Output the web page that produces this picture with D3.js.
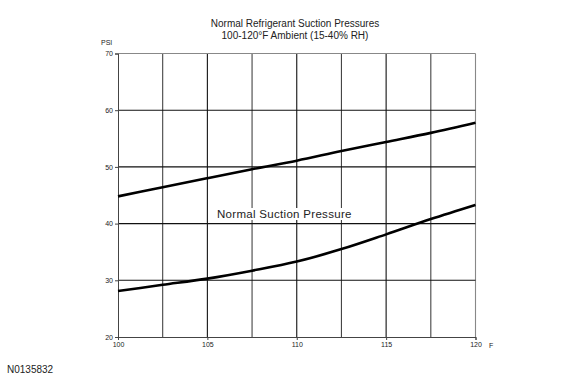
<!DOCTYPE html>
<html><head><meta charset="utf-8">
<script src="https://cdn.jsdelivr.net/npm/d3@7"></script>
<style>body{margin:0;background:#fff}svg{display:block}text{font-family:"Liberation Sans",Arial,sans-serif;fill:#222}</style>
</head><body>
<svg id="c" width="580" height="380"></svg>
<script>
const temps = [100, 102.5, 105, 107.5, 110, 112.5, 115, 117.5, 120];
const upperPsi = [44.8, 46.4, 48.0, 49.6, 51.1, 52.8, 54.4, 56.0, 57.8];
const lowerPsi = [28.1, 29.2, 30.3, 31.7, 33.3, 35.5, 38.1, 40.8, 43.3];
const xTicks = [100, 105, 110, 115, 120];
const yTicks = [20, 30, 40, 50, 60, 70];
const xGrid = [102.5, 105, 107.5, 110, 112.5, 115, 117.5, 120];
const yGrid = [30, 40, 50, 60, 70];
const titleLines = ["Normal Refrigerant Suction Pressures", "100-120°F Ambient (15-40% RH)"];

const svg = d3.select("#c");
const x = d3.scaleLinear().domain([100, 120]).range([118, 475.5]);
const y = d3.scaleLinear().domain([20, 70]).range([337, 53.5]);

// grid
svg.append("g").selectAll("line").data(xGrid).join("line")
  .attr("x1", d => x(d)).attr("x2", d => x(d)).attr("y1", y(20)).attr("y2", y(70))
  .attr("stroke", d => (d === 120 ? "#888" : (d % 5 === 0 ? "#111" : "#444"))).attr("stroke-width", 1.1);
svg.append("g").selectAll("line").data(yGrid).join("line")
  .attr("x1", x(100)).attr("x2", x(120)).attr("y1", d => y(d)).attr("y2", d => y(d))
  .attr("stroke", d => d === 70 ? "#888" : "#111").attr("stroke-width", 1.1);

// axes
const xAxis = d3.axisBottom(x).tickValues(xTicks).tickSize(3).tickPadding(2).tickFormat(d3.format("d"));
const gx = svg.append("g").attr("transform", `translate(0,${y(20)})`).call(xAxis);
gx.select(".domain").attr("stroke", "#444");
gx.selectAll(".tick line").attr("stroke", "#444");
gx.selectAll("text").attr("font-size", 7).attr("fill", "#333").attr("font-family", "Liberation Sans, Arial, sans-serif");

const yAxis = d3.axisLeft(y).tickValues(yTicks).tickSize(3).tickPadding(2);
const gy = svg.append("g").attr("transform", `translate(${x(100)},0)`).call(yAxis);
gy.select(".domain").attr("stroke", "#444");
gy.selectAll(".tick line").attr("stroke", "#444");
gy.selectAll("text").attr("font-size", 7).attr("fill", "#333").attr("font-family", "Liberation Sans, Arial, sans-serif");

// curves
const line = d3.line().x((d, i) => x(temps[i])).y(d => y(d)).curve(d3.curveMonotoneX);
[upperPsi, lowerPsi].forEach(s => {
  svg.append("path").attr("d", line(s)).attr("fill", "none").attr("stroke", "#000").attr("stroke-width", 2.6);
});

// label with white background
const lblG = svg.append("g");
const bg = lblG.append("rect").attr("fill", "#fff");
const lbl = lblG.append("text").attr("x", 217).attr("y", 218).attr("font-size", 11.5)
  .attr("letter-spacing", 0.3).text("Normal Suction Pressure");
const bb = lbl.node().getBBox();
bg.attr("x", bb.x - 2).attr("y", bb.y).attr("width", bb.width + 4).attr("height", bb.height);

// titles
svg.append("g").selectAll("text").data(titleLines).join("text")
  .attr("x", 295).attr("y", (d, i) => 27 + i * 12).attr("text-anchor", "middle").attr("font-size", 10)
  .text(d => d);

svg.append("text").attr("x", 101).attr("y", 45).attr("font-size", 7).text("PSI");
svg.append("text").attr("x", 489).attr("y", 348).attr("font-size", 7).text("F");
svg.append("text").attr("x", 7).attr("y", 373).attr("font-size", 10).text("N0135832");
</script>
</body></html>
